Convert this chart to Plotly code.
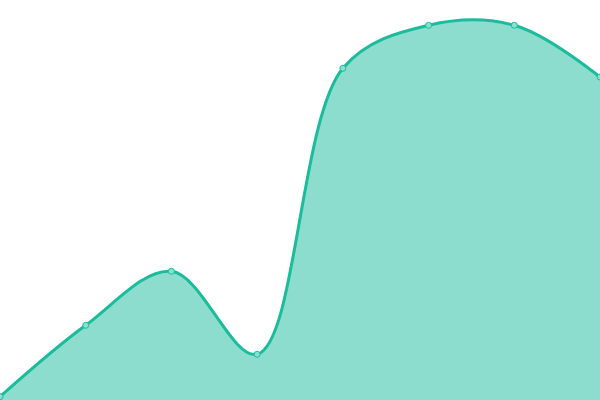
import plotly.graph_objects as go

x_vals = [0, 1, 2, 3, 4, 5, 6, 7]
y_vals = [3.3, 74.7, 128.7, 45.7, 331.7, 374.7, 374.7, 323]

LINE = '#1abc9c'
FILL = 'rgba(26,188,156,0.5)'

fig = go.Figure()
fig.add_trace(go.Scatter(
    x=x_vals, y=y_vals,
    mode='lines+markers',
    fill='tozeroy',
    fillcolor=FILL,
    line=dict(color=LINE, width=3, shape='spline', smoothing=1),
    marker=dict(size=6, color='#8ae0cf', line=dict(color=LINE, width=1)),
    hoverinfo='skip',
))

fig.update_layout(
    width=600, height=400,
    margin=dict(l=0, r=0, t=0, b=0),
    paper_bgcolor='white', plot_bgcolor='white',
    showlegend=False,
    xaxis=dict(range=[0, 7], visible=False, fixedrange=True),
    yaxis=dict(range=[0, 400], visible=False, fixedrange=True),
)

# page body has a default 8px margin, drop it so the chart sits at 0,0
fig.write_html("out.html", post_script="document.body.style.margin='0';",
               config={'displayModeBar': False})
